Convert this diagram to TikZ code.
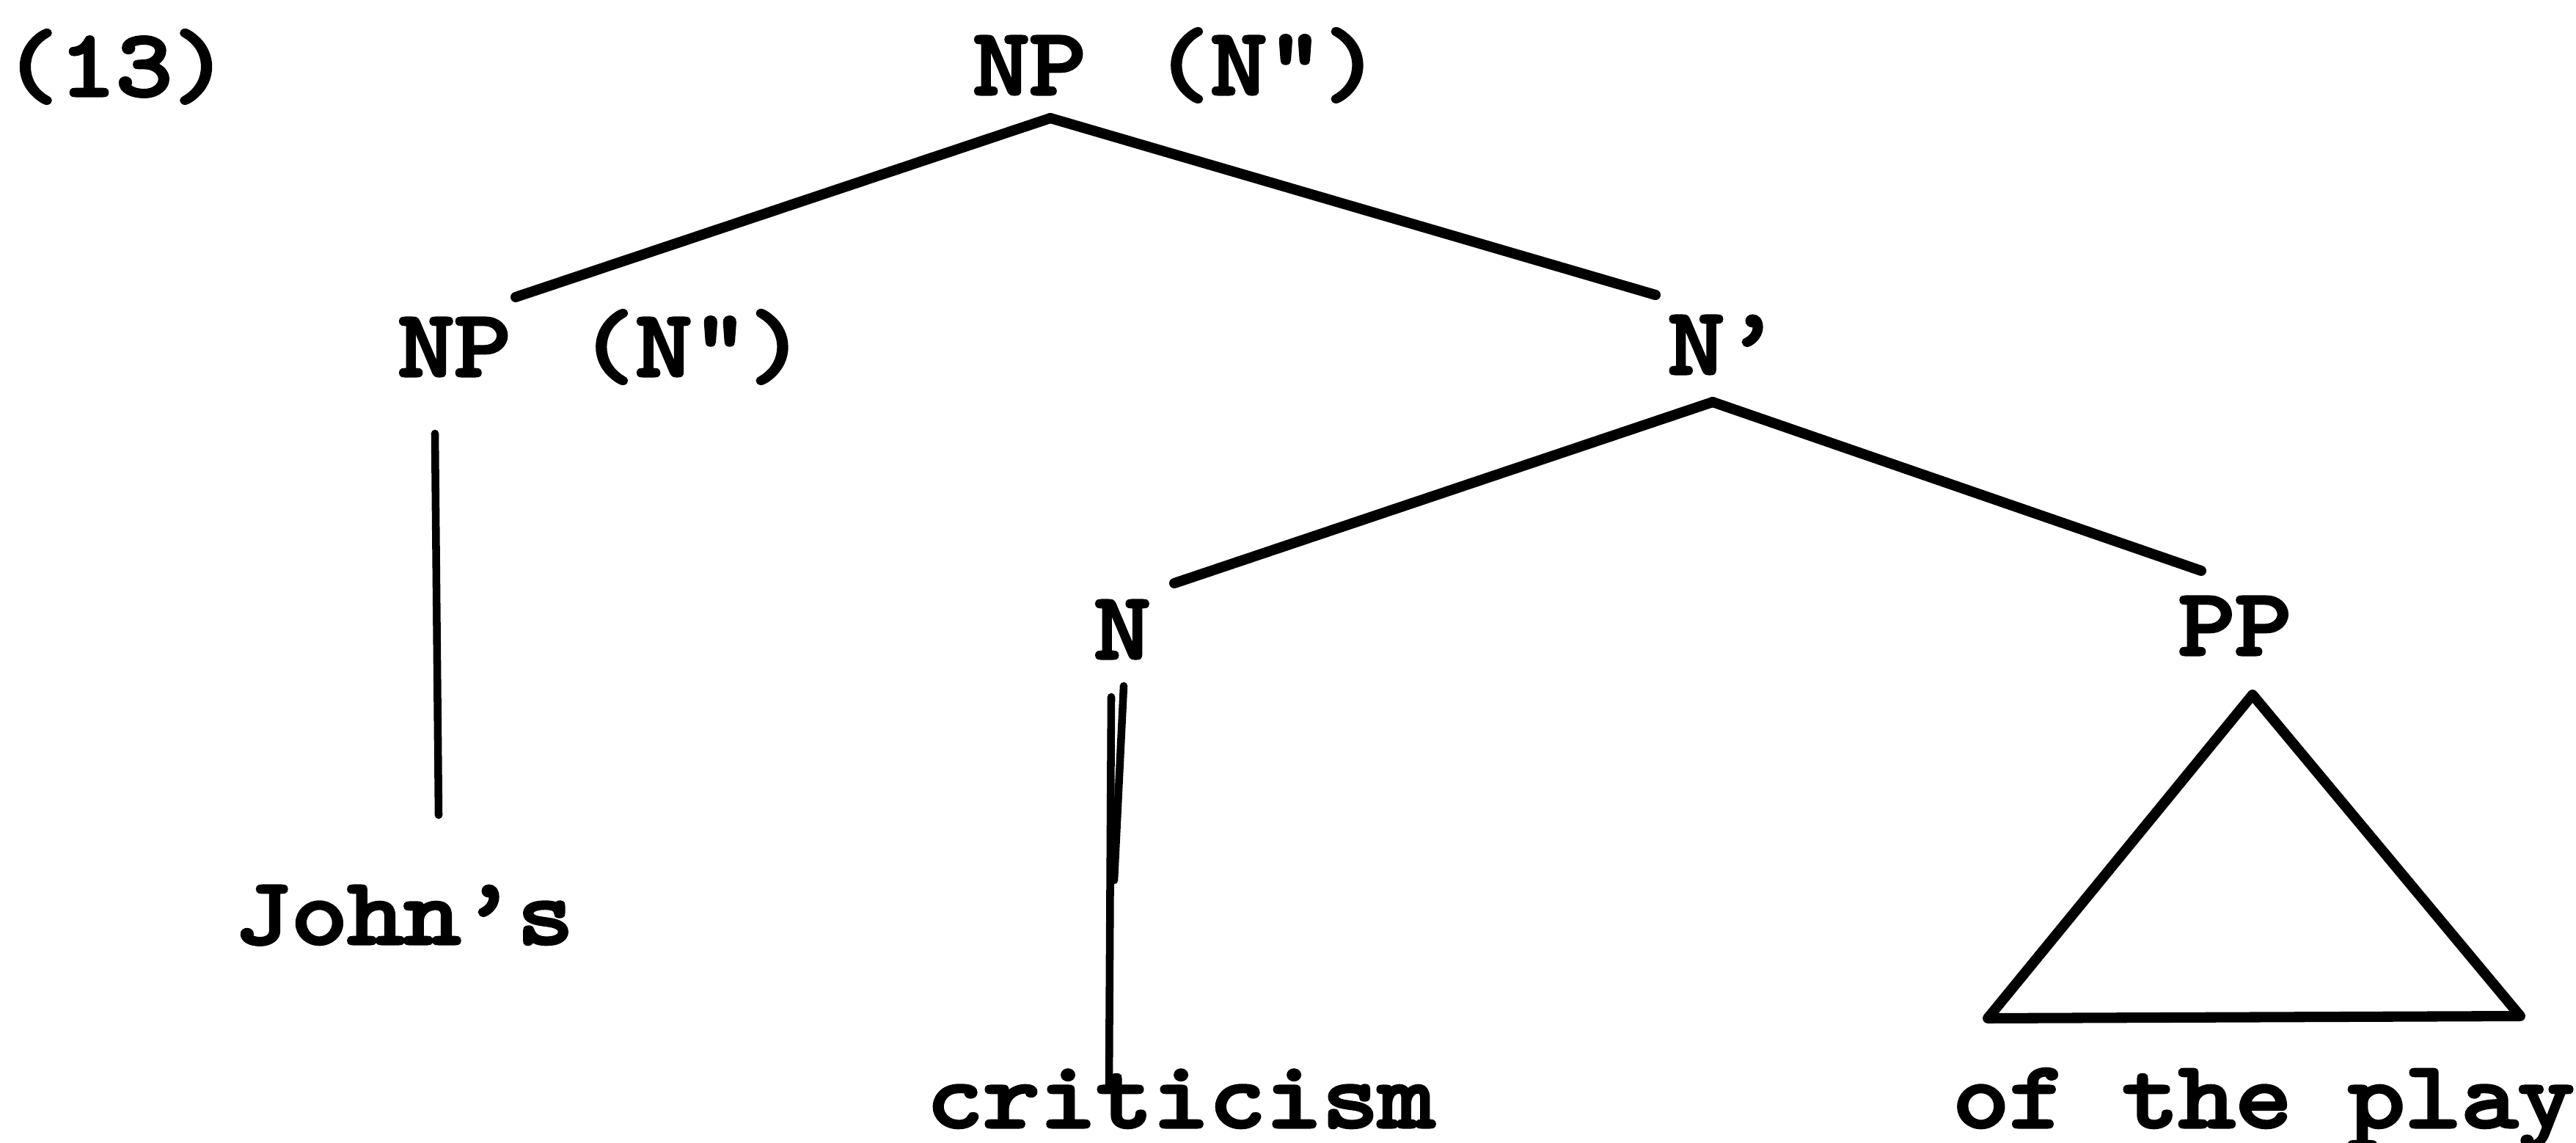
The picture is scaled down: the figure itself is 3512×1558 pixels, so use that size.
\documentclass[tikz,border=0pt]{standalone}
\usepackage{fontspec}
\newfontfamily\tw[FakeStretch=1.15,FakeBold=4]{lmmono10-regular.otf}
\begin{document}
\begin{tikzpicture}[x=0.1mm,y=-0.1mm,
  lbl/.style={inner sep=0pt, anchor=base, font=\fontsize{36.3pt}{40pt}\tw},
  br/.style={line width=4pt, line cap=round, line join=round},
  vt/.style={line width=3pt, line cap=round}]
\useasboundingbox (0,0) rectangle (3512,1558);
% labels
\node[lbl] (ex)   at (158,130)  {(13)};
\node[lbl] (np0)  at (1604,128) {NP\hspace{9.3mm}(N")};
\node[lbl] (np1)  at (820,512)  {NP\hspace{9.3mm}(N")};
\node[lbl] (nbar) at (2351,509) {N’};
\node[lbl] (n)    at (1530,897) {N};
\node[lbl] (pp)   at (3047,892) {PP};
\node[lbl] (john) at (551,1286) {John’s};
\node[lbl] (crit) at (1610,1536) {criticism};
\node[lbl] (play) at (3086,1536) {of the play};
% connector ends
\coordinate (np0-b)  at (1432,161);
\coordinate (np1-t)  at (703,405);
\coordinate (nbar-t) at (2257,402);
\coordinate (nbar-b) at (2335,548);
\coordinate (n-t)    at (1601,795);
\coordinate (pp-t)   at (3001,778);
\coordinate (np1-b)  at (593,591);
\coordinate (john-t) at (598,1111);
\coordinate (n-b)    at (1515,950);
\coordinate (n-b2)   at (1532,935);
\coordinate (crit-t) at (1512,1478);
\coordinate (crit-t2) at (1519,1200);
\coordinate (tri-a)  at (3071,947);
\coordinate (tri-l)  at (2710,1388);
\coordinate (tri-r)  at (3436,1385);
% branches
\draw[br] (np0-b) -- (np1-t);
\draw[br] (np0-b) -- (nbar-t);
\draw[br] (nbar-b) -- (n-t);
\draw[br] (nbar-b) -- (pp-t);
\draw[vt] (np1-b) -- (john-t);
\draw[vt] (n-b) -- (crit-t);
\draw[vt] (n-b2) -- (crit-t2);
\draw[br] (tri-a) -- (tri-l) -- (tri-r) -- cycle;
\end{tikzpicture}
\end{document}
